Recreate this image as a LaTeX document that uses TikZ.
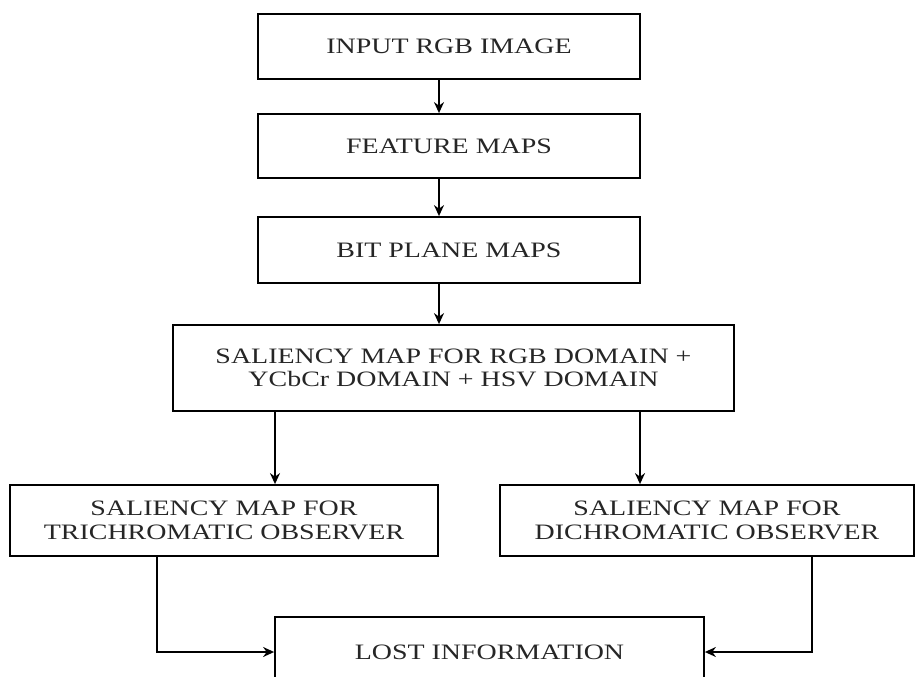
\documentclass[tikz,border=0pt]{standalone}
\usepackage{fontspec}
\setmainfont[FakeStretch=1.27]{Liberation Serif}
\usetikzlibrary{arrows.meta,positioning}

\tikzset{
  blk/.style = {draw, line width = 1.8pt, align = center, inner sep = 0pt,
    font = \fontsize{22}{23.5}\selectfont, text = black!85},
  arr/.style = {-{Stealth[length = 11pt, width = 10pt]}, line width = 1.6pt}
}

\begin{document}
\begin{tikzpicture}[x = 1pt, y = -1pt]
  \useasboundingbox (0,0) rectangle (916,677);
  \clip (0,0) rectangle (916,677);
  \node (inp)  at (449,46.5) [blk, minimum width = 382pt, minimum height = 65pt] {INPUT RGB IMAGE};
  \node (feat) at (449,146)  [blk, minimum width = 382pt, minimum height = 64pt] {FEATURE MAPS};
  \node (bit)  at (449,250)  [blk, minimum width = 382pt, minimum height = 66pt] {BIT PLANE MAPS};
  \node (sal)  at (453.5,368) [blk, minimum width = 561pt, minimum height = 86pt]
    {SALIENCY MAP FOR RGB DOMAIN +\\YCbCr DOMAIN + HSV DOMAIN};
  \node (tri)  at (224,520.5) [blk, minimum width = 428pt, minimum height = 71pt]
    {SALIENCY MAP FOR\\TRICHROMATIC OBSERVER};
  \node (dich) at (707,520.5) [blk, minimum width = 414pt, minimum height = 71pt]
    {SALIENCY MAP FOR\\DICHROMATIC OBSERVER};
  \node (lost) at (489.5,652) [blk, minimum width = 429pt, minimum height = 70pt] {LOST INFORMATION};
  \draw [arr] ([xshift = -10pt]inp.south) -- ([xshift = -10pt]feat.north);
  \draw [arr] ([xshift = -10pt]feat.south) -- ([xshift = -10pt]bit.north);
  \draw [arr] ([xshift = -10pt]bit.south) -- ([xshift = -14.5pt]sal.north);
  \draw [arr] (sal.south -| 275,0) -- (tri.north -| 275,0);
  \draw [arr] (sal.south -| 640,0) -- (dich.north -| 640,0);
  \draw [arr] (tri.south -| 157,0) |- (lost.west);
  \draw [arr] (dich.south -| 812,0) |- (lost.east);
\end{tikzpicture}
\end{document}
